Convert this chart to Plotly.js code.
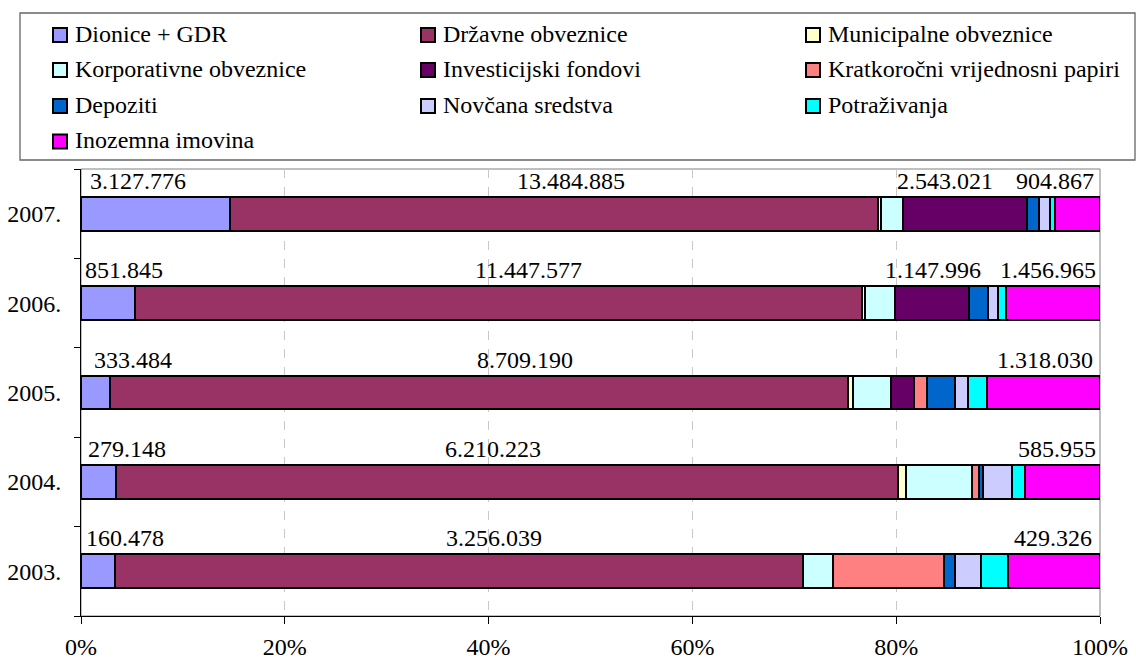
<!DOCTYPE html>
<html><head><meta charset="utf-8">
<script src="https://cdn.plot.ly/plotly-3.0.1.min.js"></script>
<style>html,body{margin:0;padding:0;background:#fff}#chart{width:1136px;height:661px}</style>
</head><body><div id="chart"></div>
<script>
// Categories (bottom to top)
const years = ['2003.', '2004.', '2005.', '2006.', '2007.'];

// Shares of each asset class (% of total)
const dionice        = [3.3, 3.4, 2.8, 5.3, 14.6];
const drzavne        = [67.6, 76.8, 72.5, 71.3, 63.6];
const municipalne    = [0, 0.8, 0.5, 0.3, 0.3];
const korporativne   = [2.9, 6.4, 3.7, 3.0, 2.2];
const investicijski  = [0, 0, 2.2, 7.2, 12.1];
const kratkorocni    = [10.9, 0.7, 1.3, 0, 0];
const depoziti       = [1.1, 0.4, 2.8, 1.9, 1.2];
const novcana        = [2.5, 2.9, 1.2, 1.0, 1.1];
const potrazivanja   = [2.7, 1.2, 1.9, 0.8, 0.5];
const inozemna       = [9.0, 7.4, 11.1, 9.2, 4.4];

// Value labels (thousand kn) shown above the bars
const labelsDionice  = ['160.478', '279.148', '333.484', '851.845', '3.127.776'];
const labelsDrzavne  = ['3.256.039', '6.210.223', '8.709.190', '11.447.577', '13.484.885'];
const labelsInvest   = ['', '', '', '1.147.996', '2.543.021'];
const labelsInozemna = ['429.326', '585.955', '1.318.030', '1.456.965', '904.867'];

// Axis ticks
const xTickVals  = [0, 20, 40, 60, 80, 100];
const xTickText  = ['0%', '20%', '40%', '60%', '80%', '100%'];

const seriesNames = ['Dionice + GDR', 'Državne obveznice', 'Municipalne obveznice',
  'Korporativne obveznice', 'Investicijski fondovi', 'Kratkoročni vrijednosni papiri',
  'Depoziti', 'Novčana sredstva', 'Potraživanja', 'Inozemna imovina'];
const seriesValues = [dionice, drzavne, municipalne, korporativne, investicijski,
  kratkorocni, depoziti, novcana, potrazivanja, inozemna];
const seriesColors = ['#9999FF', '#993366', '#FFFFCC', '#CCFFFF', '#660066',
  '#FF8080', '#0066CC', '#CCCCFF', '#00FFFF', '#FF00FF'];

const FONT = 'Liberation Serif, Times New Roman, serif';
const FS = 24;
const W = 1136, H = 661;
const M = {l: 81, r: 36, t: 169, b: 45};
const PW = W - M.l - M.r, PH = H - M.t - M.b;
const px = v => (v - M.l) / PW;          // pixel -> paper x
const py = v => (H - M.b - v) / PH;      // pixel -> paper y

const traces = seriesValues.map((vals, k) => ({
  type: 'bar', orientation: 'h', name: seriesNames[k],
  y: years, x: vals,
  marker: {color: seriesColors[k], line: {color: '#000', width: 2}},
  hoverinfo: 'name+x', showlegend: false
}));

// value labels: segment centre + small pixel nudges (as in the original)
const labelSets = [
  {idx: 0, text: labelsDionice,  shift: [27, 29, 38, 16, -17]},
  {idx: 1, text: labelsDrzavne,  shift: [35, -14, 46, 30, 17]},
  {idx: 4, text: labelsInvest,   shift: [0, 0, 0, 1, -20]},
  {idx: 9, text: labelsInozemna, shift: [-1, -5, 2, -5, -23]}
];
const annotations = [];
labelSets.forEach(ls => {
  years.forEach((yr, i) => {
    if (!ls.text[i]) return;
    let start = 0;
    for (let k = 0; k < ls.idx; k++) start += seriesValues[k][i];
    const mid = start + seriesValues[ls.idx][i] / 2;
    annotations.push({
      x: mid, y: i, xref: 'x', yref: 'y', text: ls.text[i], showarrow: false,
      xshift: ls.shift[i], yshift: 33, xanchor: 'center', yanchor: 'middle',
      font: {family: FONT, size: FS, color: '#000'}
    });
  });
});

// legend (3 columns, drawn as swatches + text)
const shapes = [
  {type: 'rect', xref: 'paper', yref: 'paper', x0: 0, x1: 1, y0: 0, y1: 1,
   line: {color: '#808080', width: 1}, layer: 'below'},
  {type: 'rect', xref: 'paper', yref: 'paper',
   x0: px(20), x1: px(1135), y0: py(160), y1: py(13),
   line: {color: '#666', width: 1.3}, layer: 'below'}
];
const colX = [53, 421, 806];
const rowY = [35, 70, 106, 141.5];
const SW = 14;
seriesNames.forEach((nm, k) => {
  const c = k % 3, r = Math.floor(k / 3);
  const x0 = colX[c], yc = rowY[r];
  shapes.push({type: 'rect', xref: 'paper', yref: 'paper',
    x0: px(x0), x1: px(x0 + SW), y0: py(yc + SW / 2), y1: py(yc - SW / 2),
    fillcolor: seriesColors[k], line: {color: '#000', width: 2}});
  annotations.push({xref: 'paper', yref: 'paper', x: px(x0 + 20), y: py(yc - 1),
    xanchor: 'left', yanchor: 'middle', showarrow: false, text: nm,
    font: {family: FONT, size: FS, color: '#000'}});
});

const layout = {
  width: W, height: H,
  margin: {l: M.l, r: M.r, t: M.t, b: M.b, pad: 0},
  paper_bgcolor: '#fff', plot_bgcolor: '#fff',
  font: {family: FONT, size: FS, color: '#000'},
  barmode: 'stack', bargap: 0.62,
  showlegend: false,
  xaxis: {
    range: [0, 100], tickmode: 'array', tickvals: xTickVals, ticktext: xTickText,
    showgrid: true, gridcolor: '#c8c8c8', griddash: 'dash', gridwidth: 1,
    zeroline: false, showline: true, linecolor: '#000', linewidth: 1,
    ticks: 'outside', ticklen: 7, tickcolor: '#000',
    ticklabelstandoff: 2,
    tickfont: {family: FONT, size: FS, color: '#000'}, fixedrange: true
  },
  yaxis: {
    type: 'category', categoryorder: 'array', categoryarray: years,
    range: [-0.5, 4.5],
    showgrid: false, zeroline: false, showline: true, linecolor: '#000', linewidth: 1,
    ticks: 'outside', ticklen: 6, tickcolor: '#000', tickson: 'boundaries',
    ticklabelstandoff: 14,
    tickfont: {family: FONT, size: FS, color: '#000'}, fixedrange: true
  },
  shapes: shapes,
  annotations: annotations
};

Plotly.newPlot('chart', traces, layout, {displayModeBar: false, staticPlot: true});
</script>
</body></html>
